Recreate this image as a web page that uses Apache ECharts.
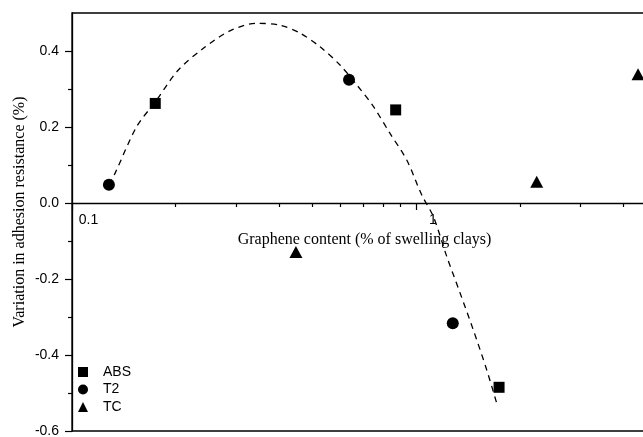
<!DOCTYPE html>
<html>
<head>
<meta charset="utf-8">
<script src="https://cdn.jsdelivr.net/npm/echarts@6/dist/echarts.min.js"></script>
<style>
html, body { margin: 0; padding: 0; overflow: hidden; background: #fff; }
#chart { width: 660px; height: 437px; }
</style>
</head>
<body>
<div id="chart"></div>
<script>
// ---- data ----
const absX = [0.1745, 0.871, 1.739];
const absY = [0.262, 0.245, -0.485];
const t2X = [0.128, 0.6376, 1.276];
const t2Y = [0.048, 0.3245, -0.3166];
const tcX = [0.447, 2.237, 4.405];
const tcY = [-0.129, 0.056, 0.339];
// dashed fit curve
const fitX = [0.128, 0.1333, 0.1541, 0.1745, 0.2036, 0.2407, 0.2876, 0.3439, 0.4019, 0.4595, 0.5253, 0.6003, 0.6713, 0.7502, 0.8387, 0.938, 1.037, 1.121, 1.226, 1.340, 1.464, 1.601, 1.712];
const fitY = [0.048, 0.078, 0.201, 0.266, 0.35, 0.407, 0.453, 0.473, 0.468, 0.447, 0.411, 0.363, 0.311, 0.254, 0.183, 0.113, 0.021, -0.036, -0.141, -0.237, -0.334, -0.439, -0.527];
// tick values
const xMajorTicks = [0.1, 1];
const xMinorTicks = [0.2, 0.3, 0.4, 0.5, 0.6, 0.7, 0.8, 0.9, 2, 3, 4, 5];
const yMajorTicks = [-0.6, -0.4, -0.2, 0.0, 0.2, 0.4];
const yMinorTicks = [-0.5, -0.3, -0.1, 0.1, 0.3];
const seriesNames = ['ABS', 'T2', 'TC'];
const xTitle = 'Graphene content (% of swelling clays)';
const yTitle = 'Variation in adhesion resistance (%)';

const zip = (xs, ys) => xs.map((x, i) => [x, ys[i]]);
const sans = '"Liberation Sans", Arial, sans-serif';
const serif = '"Liberation Serif", "Times New Roman", serif';
const black = '#000';

const yMin = -0.6, yMax = 0.5;
const gridTop = 13, gridHeight = 418;
// x axis crosses the y axis at 0: shift it up from the grid bottom by the y-scale distance
const xAxisOffset = -gridHeight * (0 - yMin) / (yMax - yMin);

const chart = echarts.init(document.getElementById('chart'), null, { renderer: 'canvas' });

const xBase = {
  type: 'log', logBase: 10, min: 0.1, max: 5, gridIndex: 0,
  position: 'bottom', offset: xAxisOffset,
  splitLine: { show: false }, minorTick: { show: false }
};
const yBase = {
  type: 'value', min: yMin, max: yMax, interval: 0.2, position: 'left',
  splitLine: { show: false }
};

chart.setOption({
  animation: false,
  backgroundColor: '#fff',
  grid: {
    left: 72, top: gridTop, width: 585, height: gridHeight,
    containLabel: false, outerBoundsMode: 'none',
    show: true, borderColor: black, borderWidth: 1.3, backgroundColor: 'transparent'
  },
  xAxis: [
    Object.assign({}, xBase, {
      axisLine: { show: true, onZero: false, lineStyle: { color: black, width: 1.3 } },
      axisTick: { show: true, inside: false, length: 7, customValues: xMajorTicks, lineStyle: { color: black, width: 1.2 } },
      axisLabel: {
        show: true, customValues: xMajorTicks, margin: 10,
        color: black, fontFamily: sans, fontSize: 14,
        align: 'center', padding: [0, 0, 0, 33],
        formatter: v => String(+Number(v).toPrecision(3))
      },
      name: xTitle, nameLocation: 'middle', nameGap: 24,
      nameTextStyle: { color: black, fontFamily: serif, fontSize: 16 }
    }),
    Object.assign({}, xBase, {
      axisLine: { show: false, onZero: false },
      axisTick: { show: true, inside: false, length: 4, customValues: xMinorTicks, lineStyle: { color: black, width: 1.2 } },
      axisLabel: { show: false }
    })
  ],
  yAxis: [
    Object.assign({}, yBase, {
      axisLine: { show: true, onZero: false, lineStyle: { color: black, width: 1.3 } },
      axisTick: { show: true, inside: false, length: 7, customValues: yMajorTicks, lineStyle: { color: black, width: 1.2 } },
      axisLabel: {
        show: true, customValues: yMajorTicks, margin: 13,
        color: black, fontFamily: sans, fontSize: 14,
        formatter: v => Number(v).toFixed(1)
      }
    }),
    Object.assign({}, yBase, {
      axisLine: { show: false, onZero: false },
      axisTick: { show: true, inside: false, length: 4, customValues: yMinorTicks, lineStyle: { color: black, width: 1.2 } },
      axisLabel: { show: false }
    })
  ],
  legend: {
    data: seriesNames,
    orient: 'vertical', left: 73, top: 360,
    itemWidth: 10, itemHeight: 10, itemGap: 3.5,
    textStyle: { color: black, fontFamily: sans, fontSize: 14, padding: [0, 0, 0, 10] }
  },
  graphic: [{
    type: 'text', x: 20, y: 212, rotation: Math.PI / 2,
    style: {
      text: yTitle, fill: black, font: '16px ' + serif,
      align: 'center', verticalAlign: 'middle'
    }
  }],
  series: [
    {
      name: 'fit', type: 'line', xAxisIndex: 0, yAxisIndex: 0,
      data: zip(fitX, fitY), smooth: 0.3, showSymbol: false, symbol: 'none',
      lineStyle: { color: black, width: 1.3, type: [6, 5] }, z: 1, silent: true
    },
    {
      name: seriesNames[0], type: 'scatter', xAxisIndex: 0, yAxisIndex: 0,
      data: zip(absX, absY), symbol: 'rect', symbolSize: 11,
      itemStyle: { color: black, opacity: 1 }, z: 3
    },
    {
      name: seriesNames[1], type: 'scatter', xAxisIndex: 0, yAxisIndex: 0,
      data: zip(t2X, t2Y), symbol: 'circle', symbolSize: 12,
      itemStyle: { color: black, opacity: 1 }, z: 3
    },
    {
      name: seriesNames[2], type: 'scatter', xAxisIndex: 0, yAxisIndex: 0,
      data: zip(tcX, tcY), symbol: 'triangle', symbolSize: [13, 12],
      itemStyle: { color: black, opacity: 1 }, z: 3
    }
  ]
});
</script>
</body>
</html>
